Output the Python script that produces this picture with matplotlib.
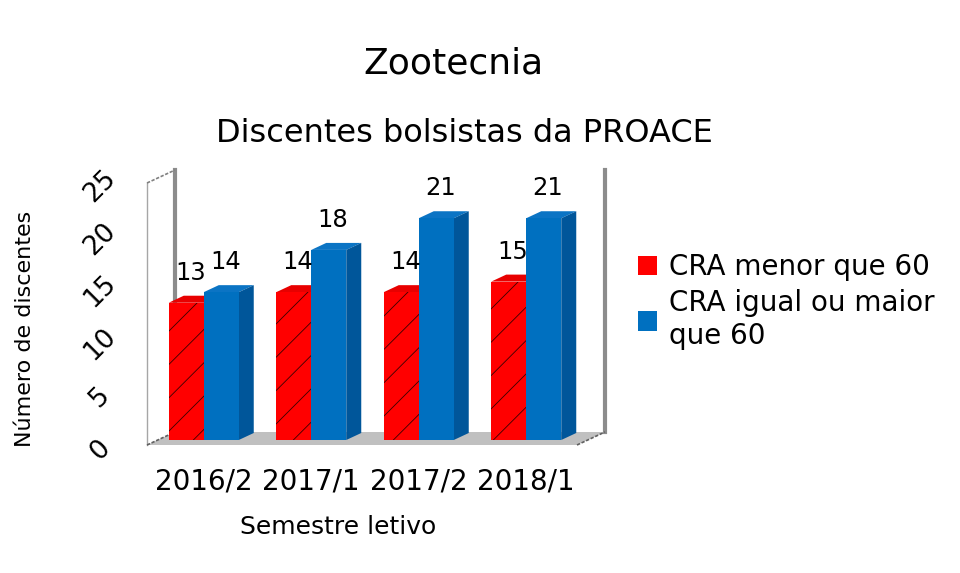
import matplotlib
matplotlib.use("Agg")
import matplotlib.pyplot as plt
from matplotlib.patches import Polygon, Patch
from matplotlib.transforms import ScaledTranslation

# dados
semestres = ["2016/2", "2017/1", "2017/2", "2018/1"]
cra_menor = [13, 14, 14, 15]
cra_maior = [14, 18, 21, 21]
nome_menor = "CRA menor que 60"
nome_maior = "CRA igual ou maior\nque 60"

VERMELHO = "#FF0000"
VERM_TOPO = "#E80000"
VERM_LADO = "#A00000"
AZUL = "#0070C0"
AZUL_TOPO = "#0B74C4"
AZUL_LADO = "#00569A"

plt.rcParams["hatch.linewidth"] = 0.6

fig = plt.figure(figsize=(9.6, 5.73), dpi=100)
W, H = 960, 573
# area do grafico em pixels: x 150..580, y 176..440
ax = fig.add_axes([150 / W, (H - 440) / H, 430 / W, 264 / H])
ax.set_xlim(-0.5, 3.5)
ax.set_ylim(0, 25)

PXX = 4.0 / 430      # dados por pixel em x
PXY = 25.0 / 264     # dados por pixel em y

bw = 35 * PXX        # largura de cada barra
ddx, ddy = 15 * PXX, 7 * PXY     # profundidade das barras
wdx, wdy = 28 * PXX, 13 * PXY    # profundidade das paredes

# piso e paredes
xl = -0.5 - 3 * PXX
xr = 3.5 - 3 * PXX
yf = -5 * PXY
ytop = 257 * PXY
ax.add_patch(Polygon([(xl, yf), (xr, yf), (xr + wdx, yf + wdy), (xl + wdx, yf + wdy)],
                     closed=True, facecolor="#C0C0C0", edgecolor="none",
                     clip_on=False, zorder=0))
ax.plot([xl, xl], [yf, ytop], color="#A6A6A6", lw=1, clip_on=False, zorder=1)
ax.plot([xl + wdx, xl + wdx], [yf + wdy, ytop + wdy], color="#8C8C8C", lw=3,
        clip_on=False, zorder=1)
ax.plot([xr + wdx, xr + wdx], [yf + wdy, ytop + wdy], color="#8C8C8C", lw=3,
        clip_on=False, zorder=1)
ax.plot([xl, xl + wdx], [ytop, ytop + wdy], color="#808080", lw=1.2, ls=(0, (2, 1)),
        clip_on=False, zorder=1)
ax.plot([xl, xl + wdx], [yf, yf + wdy], color="#606060", lw=1.2, ls=(0, (2, 1)),
        clip_on=False, zorder=2)
ax.plot([xr, xr + wdx], [yf, yf + wdy], color="#606060", lw=1.2, ls=(0, (2, 1)),
        clip_on=False, zorder=2)

pos = list(range(len(semestres)))
x_menor = [p - bw for p in pos]
x_maior = [p for p in pos]

ax.bar(x_menor, cra_menor, width=bw, align="edge", color=VERMELHO,
       edgecolor="#3A0000", linewidth=0, hatch="/", zorder=3)
ax.bar(x_maior, cra_maior, width=bw, align="edge", color=AZUL,
       linewidth=0, zorder=5)


def faces(x0, v, topo, lado, z):
    x1 = x0 + bw
    ax.add_patch(Polygon([(x0, v), (x0 + ddx, v + ddy), (x1 + ddx, v + ddy), (x1, v)],
                         closed=True, facecolor=topo, edgecolor="none", zorder=z))
    ax.add_patch(Polygon([(x1, 0), (x1 + ddx, ddy), (x1 + ddx, v + ddy), (x1, v)],
                         closed=True, facecolor=lado, edgecolor="none", zorder=z,
                         clip_on=False))


for x0, v in zip(x_menor, cra_menor):
    faces(x0, v, VERM_TOPO, VERM_LADO, 2)
for x0, v in zip(x_maior, cra_maior):
    faces(x0, v, AZUL_TOPO, AZUL_LADO, 4)

for x0, v in zip(x_menor, cra_menor):
    ax.annotate(str(v), (x0 + bw / 2, v), xytext=(4, 23), textcoords="offset pixels",
                ha="center", va="baseline", fontsize=17.5, zorder=6)
for x0, v in zip(x_maior, cra_maior):
    ax.annotate(str(v), (x0 + bw / 2, v), xytext=(4, 23), textcoords="offset pixels",
                ha="center", va="baseline", fontsize=17.5, zorder=6)

for s in ax.spines.values():
    s.set_visible(False)
ax.set_xticks(pos)
ax.set_xticklabels(semestres, fontsize=20)
ax.set_yticks(range(0, 26, 5))
ax.set_yticklabels([str(t) for t in range(0, 26, 5)], fontsize=19, rotation=45,
                   ha="center", va="center")
ax.tick_params(axis="x", length=0, pad=20)
ax.tick_params(axis="y", length=0, pad=36)
desce = ScaledTranslation(0, -10 / 100, fig.dpi_scale_trans)
for lbl in ax.get_yticklabels():
    lbl.set_transform(lbl.get_transform() + desce)

fig.text(453 / W, 1 - 64 / H, "Zootecnia", fontsize=26, ha="center", va="center")
fig.text(464 / W, 1 - 133 / H, "Discentes bolsistas da PROACE", fontsize=23,
         ha="center", va="center")
fig.text(338 / W, 1 - 527 / H, "Semestre letivo", fontsize=18, ha="center", va="center")
fig.text(25 / W, 1 - 329 / H, "Número de discentes", fontsize=16, rotation=90,
         ha="center", va="center")

handles = [Patch(facecolor=VERMELHO), Patch(facecolor=AZUL)]
fig.legend(handles, [nome_menor, nome_maior], loc="upper left",
           bbox_to_anchor=(638 / W, 1 - 253 / H), frameon=False, fontsize=20,
           handlelength=0.7, handleheight=0.7, handletextpad=0.4,
           labelspacing=0.3, borderpad=0, borderaxespad=0)

fig.savefig("out.png", dpi=100)
